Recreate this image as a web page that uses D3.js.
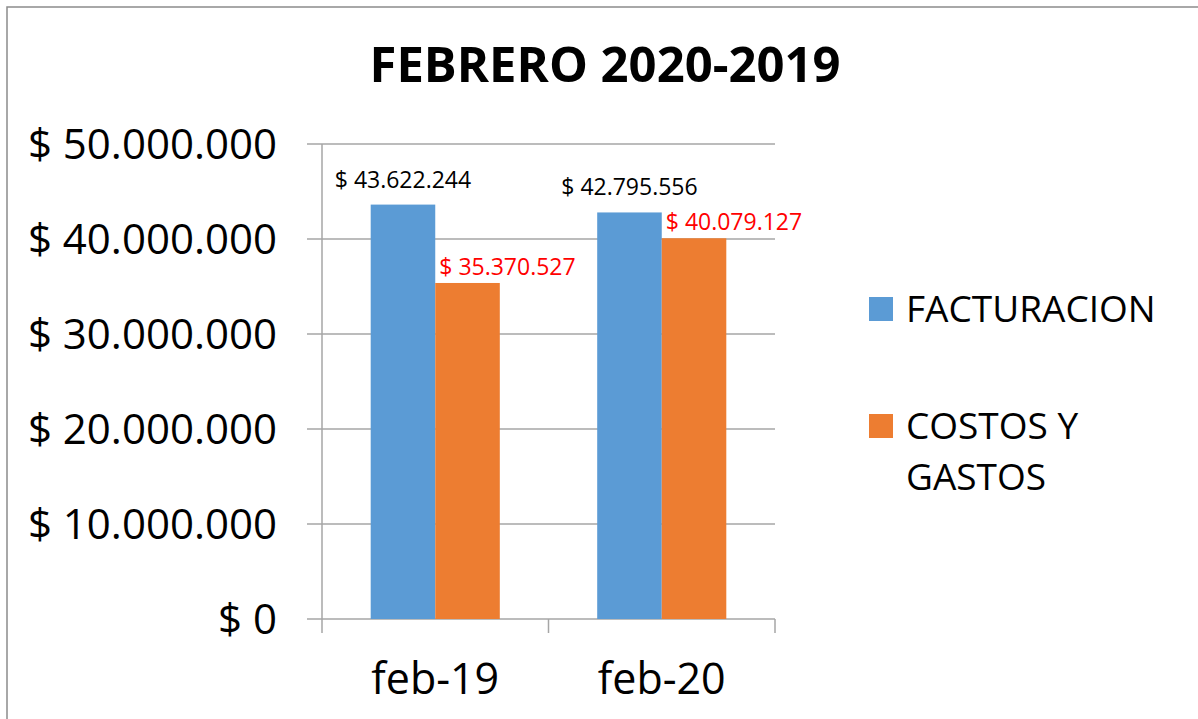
<!DOCTYPE html>
<html>
<head>
<meta charset="utf-8">
<script src="https://cdn.jsdelivr.net/npm/d3@7"></script>
<style>
  html, body { margin: 0; padding: 0; background: #fff; }
  svg { display: block; font-family: 'Open Sans', 'Noto Sans', sans-serif; }
</style>
</head>
<body>
<div id="chart"></div>
<script>
// Chart data
const categories = ['feb-19', 'feb-20'];
const seriesNames = ['FACTURACION', 'COSTOS Y GASTOS'];
const facturacion = [43622244, 42795556];
const costosGastos = [35370527, 40079127];
const yTicks = [0, 10000000, 20000000, 30000000, 40000000, 50000000];

const colors = ['#5B9BD5', '#ED7D31'];
const labelColors = ['#000000', '#FF0000'];

const width = 1198, height = 719;
const plot = { left: 322, right: 775, top: 144, bottom: 619 };

const fmt = v => '$ ' + d3.format(',')(v).replace(/,/g, '.');

const svg = d3.select('#chart').append('svg')
  .attr('width', width)
  .attr('height', height);

// Outer frame (only top / left edges visible)
svg.append('rect')
  .attr('x', 7).attr('y', 7)
  .attr('width', 1210).attr('height', 730)
  .attr('fill', 'none')
  .attr('stroke', '#8c8c8c')
  .attr('stroke-width', 1.5);

// Title
svg.append('text')
  .attr('x', 605).attr('y', 82)
  .attr('text-anchor', 'middle')
  .style('font-size', '49px')
  .style('font-weight', 'bold')
  .text('FEBRERO 2020-2019');

// Scales
const x0 = d3.scaleBand()
  .domain(categories)
  .range([plot.left, plot.right])
  .padding(0);

const x1 = d3.scaleBand()
  .domain(seriesNames)
  .range([x0.bandwidth() * 0.215, x0.bandwidth() * 0.785])
  .padding(0);

const y = d3.scaleLinear()
  .domain([0, 50000000])
  .range([plot.bottom, plot.top]);

// Gridlines + y tick marks
svg.append('g')
  .selectAll('line')
  .data(yTicks)
  .join('line')
  .attr('x1', plot.left - 15)
  .attr('x2', plot.right)
  .attr('y1', d => y(d))
  .attr('y2', d => y(d))
  .attr('stroke', '#a6a6a6')
  .attr('stroke-width', 1.5);

// y axis line
svg.append('line')
  .attr('x1', plot.left).attr('x2', plot.left)
  .attr('y1', plot.top).attr('y2', plot.bottom + 14)
  .attr('stroke', '#a6a6a6')
  .attr('stroke-width', 1.5);

// category boundary ticks
const bounds = categories.map(c => x0(c)).concat([x0(categories[categories.length - 1]) + x0.bandwidth()]);
svg.append('g')
  .selectAll('line')
  .data(bounds.slice(1))
  .join('line')
  .attr('x1', d => d).attr('x2', d => d)
  .attr('y1', plot.bottom).attr('y2', plot.bottom + 14)
  .attr('stroke', '#a6a6a6')
  .attr('stroke-width', 1.5);

// y labels
svg.append('g')
  .selectAll('text')
  .data(yTicks)
  .join('text')
  .attr('x', 277)
  .attr('y', d => y(d) + 15)
  .attr('text-anchor', 'end')
  .style('font-size', '42px')
  .text(d => fmt(d));

// category labels
svg.append('g')
  .selectAll('text')
  .data(categories)
  .join('text')
  .attr('x', d => x0(d) + x0.bandwidth() / 2)
  .attr('y', 694)
  .attr('text-anchor', 'middle')
  .style('font-size', '43px')
  .text(d => d);

// Bars
const rows = categories.map((c, i) => ({
  cat: c,
  values: [
    { series: seriesNames[0], value: facturacion[i], si: 0 },
    { series: seriesNames[1], value: costosGastos[i], si: 1 }
  ]
}));

const groups = svg.append('g')
  .selectAll('g')
  .data(rows)
  .join('g')
  .attr('transform', d => `translate(${x0(d.cat)},0)`);

groups.selectAll('rect')
  .data(d => d.values)
  .join('rect')
  .attr('x', d => x1(d.series))
  .attr('y', d => y(d.value))
  .attr('width', x1.bandwidth())
  .attr('height', d => plot.bottom - y(d.value))
  .attr('fill', d => colors[d.si]);

// Data labels: blue centred above bar, orange offset to the right
groups.selectAll('text')
  .data(d => d.values)
  .join('text')
  .attr('x', d => d.si === 0 ? x1(d.series) + x1.bandwidth() / 2 : x1(d.series) + 4)
  .attr('y', d => y(d.value) - (d.si === 0 ? 17 : 8))
  .attr('text-anchor', d => d.si === 0 ? 'middle' : 'start')
  .style('font-size', '23px')
  .style('fill', d => labelColors[d.si])
  .text(d => fmt(d.value));

// Legend
const legend = [
  { lines: ['FACTURACION'], y: 297 },
  { lines: ['COSTOS Y', 'GASTOS'], y: 414 }
];
const lg = svg.append('g')
  .selectAll('g')
  .data(legend)
  .join('g')
  .attr('transform', d => `translate(869,${d.y})`);

lg.append('rect')
  .attr('width', 24).attr('height', 24)
  .attr('fill', (d, i) => colors[i]);

lg.each(function(d) {
  d3.select(this).selectAll('text')
    .data(d.lines)
    .join('text')
    .attr('x', 37)
    .attr('y', (t, j) => 25 + j * 51)
    .style('font-size', '37px')
    .text(t => t);
});
</script>
</body>
</html>
